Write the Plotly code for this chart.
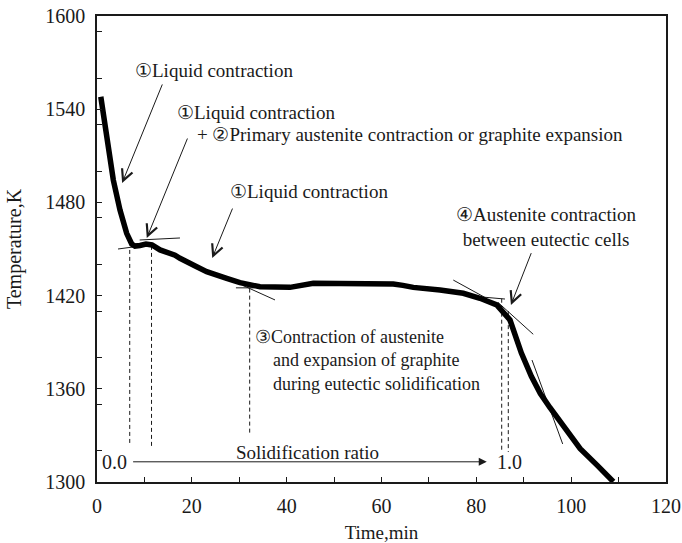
import plotly.graph_objects as go

# Cooling curve of the casting: time (min) vs temperature (K)
time_min = [0.8, 1.6, 2.05, 3.44, 4.85, 6.26, 7.32, 8.01, 9.07, 10.33, 11.6,
            13.29, 16.45, 17.5, 21.03, 23.13, 27.35, 30.15, 34.37, 40.7, 45.62,
            51.25, 62.49, 64.5, 66.71, 72.34, 77.25, 80.77, 84.3, 87.1, 89.5,
            91.6, 93.5, 95.5, 98.3, 101.9, 105.4, 108.9]
temp_K = [1548.0, 1530.0, 1520.2, 1494.4, 1475.1, 1460.1, 1453.2, 1451.9, 1452.3,
          1453.2, 1452.6, 1449.4, 1446.0, 1444.0, 1438.6, 1435.4, 1431.1, 1428.3,
          1425.7, 1425.3, 1427.9, 1427.9, 1427.5, 1426.6, 1425.3, 1423.6, 1421.5,
          1418.3, 1414.0, 1404.3, 1383.0, 1368.0, 1357.0, 1348.0, 1336.5, 1321.5,
          1311.0, 1300.2]

# Tangent construction lines: (t0, T0, t1, T1)
tangent_lines = [
    (4.43, 1450.0, 9.07, 1451.9),
    (9.0, 1455.8, 17.5, 1457.1),
    (29.3, 1425.0, 33.0, 1425.0),
    (30.8, 1426.5, 37.54, 1417.2),
    (75.14, 1430.0, 82.0, 1418.5),
    (80.4, 1419.3, 86.04, 1417.8),
    (84.57, 1415.6, 92.0, 1395.1),
    (91.74, 1378.5, 98.21, 1324.5),
]

# Vertical dashed markers: (t, T_top, T_bottom)
dashed_markers = [
    (6.9, 1449.4, 1323.8),
    (11.5, 1452.0, 1321.9),
    (32.2, 1424.5, 1331.5),
    (85.35, 1418.0, 1319.3),
    (86.74, 1410.0, 1319.3),
]

# Arrow call-outs: (tail t, tail T, head t, head T)
callout_arrows = [
    (13.9, 1556.9, 5.3, 1492.5),
    (19.2, 1522.1, 10.5, 1457.1),
    (28.7, 1477.0, 24.3, 1444.2),
    (91.7, 1448.3, 87.3, 1414.0),
]

# Text labels: (t, T, text, xanchor, size)
NB = "&nbsp;" * 4
labels = [
    (7.6, 1565.2, "①Liquid contraction", "left", 19),
    (16.4, 1538.2, "①Liquid contraction", "left", 19),
    (20.7, 1523.4, "+ ②Primary austenite contraction or graphite expansion", "left", 19),
    (27.6, 1487.3, "①Liquid contraction", "left", 19),
    (94.8, 1464.2, "④Austenite contraction<br>between eutectic cells", "center", 19),
    (32.9, 1378.5, "③Contraction of austenite<br>" + NB + "and expansion of graphite<br>"
     + NB + "during eutectic solidification", "left", 18),
]

# Solidification ratio scale
ratio_level = 1313.0
ratio_start, ratio_end = 7.3, 82.2
ratio_labels = [(3.6, "0.0"), (86.9, "1.0")]
ratio_title = (44.3, 1318.7, "Solidification ratio")

x_ticks = [0, 20, 40, 60, 80, 100, 120]
y_ticks = [1300, 1360, 1420, 1480, 1540, 1600]

FONT = "Liberation Serif, Times New Roman, serif"
INK = "#1a1a1a"

fig = go.Figure()

for t0, T0, t1, T1 in tangent_lines:
    fig.add_trace(go.Scatter(x=[t0, t1], y=[T0, T1], mode="lines",
                             line=dict(color=INK, width=1), hoverinfo="skip"))

for t, top, bottom in dashed_markers:
    fig.add_trace(go.Scatter(x=[t, t], y=[top, bottom], mode="lines",
                             line=dict(color=INK, width=1, dash="4px,3px"),
                             hoverinfo="skip"))

fig.add_trace(go.Scatter(x=time_min, y=temp_K, mode="lines",
                         line=dict(color="black", width=5.5)))

annotations = []
for tx, ty, hx, hy in callout_arrows:
    annotations.append(dict(x=hx, y=hy, ax=tx, ay=ty, xref="x", yref="y",
                            axref="x", ayref="y", text="", showarrow=True,
                            arrowhead=5, arrowsize=2.2, arrowwidth=1,
                            arrowcolor=INK, standoff=0, startstandoff=0))

for tx, ty, txt, anchor, size in labels:
    annotations.append(dict(x=tx, y=ty, xref="x", yref="y", text=txt,
                            showarrow=False, xanchor=anchor, yanchor="middle",
                            align="center" if anchor == "center" else "left",
                            font=dict(family=FONT, size=size, color=INK)))

annotations.append(dict(x=ratio_end, y=ratio_level, ax=ratio_start, ay=ratio_level,
                        xref="x", yref="y", axref="x", ayref="y", text="",
                        showarrow=True, arrowhead=2, arrowsize=1.6,
                        arrowwidth=1, arrowcolor=INK, standoff=0))
for tx, txt in ratio_labels:
    annotations.append(dict(x=tx, y=ratio_level, xref="x", yref="y", text=txt,
                            showarrow=False, xanchor="center", yanchor="middle",
                            font=dict(family=FONT, size=20, color=INK)))
annotations.append(dict(x=ratio_title[0], y=ratio_title[1], xref="x", yref="y",
                        text=ratio_title[2], showarrow=False, xanchor="center",
                        yanchor="middle",
                        font=dict(family=FONT, size=19, color=INK)))

fig.update_layout(
    width=682, height=543,
    margin=dict(l=97, r=16, t=16, b=61),
    paper_bgcolor="white", plot_bgcolor="white",
    showlegend=False,
    font=dict(family=FONT, size=19, color=INK),
    annotations=annotations,
    xaxis=dict(range=[0, 120], tickvals=x_ticks, ticks="inside", ticklen=5,
               tickwidth=1, tickcolor=INK, automargin=False,
               minor=dict(dtick=10, ticks="inside", ticklen=5, tickcolor=INK),
               showgrid=False, zeroline=False, showline=True, linecolor=INK,
               linewidth=1.5, mirror=True, ticklabelstandoff=5,
               tickfont=dict(family=FONT, size=20, color=INK),
               title=dict(text="Time,min", standoff=16,
                          font=dict(family=FONT, size=19, color=INK))),
    yaxis=dict(range=[1300, 1600], tickvals=y_ticks, ticks="inside", ticklen=5,
               tickwidth=1, tickcolor=INK, automargin=False,
               minor=dict(dtick=30, ticks="inside", ticklen=5, tickcolor=INK),
               showgrid=False, zeroline=False, showline=True, linecolor=INK,
               linewidth=1.5, mirror=True, ticklabelstandoff=6,
               tickfont=dict(family=FONT, size=20, color=INK),
               title=dict(text="Temperature,K", standoff=18,
                          font=dict(family=FONT, size=20, color=INK))),
)

fig.write_html("out.html")
